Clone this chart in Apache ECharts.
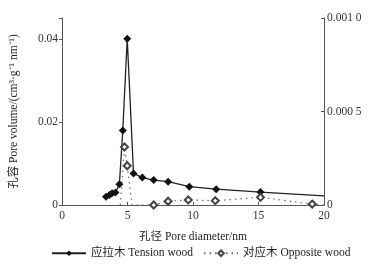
<!DOCTYPE html>
<html><head><meta charset="utf-8">
<script src="https://cdn.jsdelivr.net/npm/echarts@6/dist/echarts.min.js"></script>
<style>html,body{margin:0;padding:0;background:#fff}#c{width:369px;height:271px}</style>
</head><body><div id="c"></div>
<script>
// Tension wood (left axis)
const tensionX = [3.36, 3.62, 3.82, 4.08, 4.38, 4.64, 4.98, 5.46, 6.13, 7.0, 8.1, 9.72, 11.77, 15.15, 20];
const tensionY = [0.0020, 0.0024, 0.0028, 0.0030, 0.0050, 0.0179, 0.0400, 0.0076, 0.0066, 0.0060, 0.0056, 0.0044, 0.0038, 0.0031, 0.0022];
const tensionMeasured = [1,1,1,1,1,1,1,1,1,1,1,1,1,1,0];
// Opposite wood (right axis)
const oppositeX = [4.45, 4.77, 4.98, 5.35, 7.0, 8.1, 9.64, 11.7, 15.15, 19.1, 20];
const oppositeY = [0, 0.00031, 0.00021, 0, 0, 0.00002, 0.000027, 0.000023, 0.000041, 0.000005, 0];
const oppositeMeasured = [0,1,1,0,1,1,1,1,1,1,0];
const xTicks = [0, 5, 10, 15, 20];
const leftTickLabels = {"0": "0", "0.02": "0.02", "0.04": "0.04"};
const rightTickLabels = {"0": "0", "0.0005": "0.000 5", "0.001": "0.001 0"};
const seriesNames = ["应拉木 Tension wood", "对应木 Opposite wood"];
const xName = "孔径 Pore diameter/nm";
const yName = "孔容 Pore volume/(cm³·g⁻¹ nm⁻¹)";

const FONT = '"Liberation Serif", "Noto Sans CJK SC", serif';
const axisColor = '#555';
function mk(xs, ys, flags) {
  return xs.map((x, i) => flags[i] ? [x, ys[i]] : {value: [x, ys[i]], symbol: 'none'});
}
const chart = echarts.init(document.getElementById('c'), null, {renderer: 'canvas'});
chart.setOption({
  animation: false,
  backgroundColor: '#fff',
  textStyle: {fontFamily: FONT, color: '#222'},
  grid: {left: 62, right: 45, top: 18, bottom: 66, containLabel: false},
  legend: {
    bottom: 7, left: 46, itemWidth: 34, itemHeight: 7, itemGap: 10,
    textStyle: {fontFamily: FONT, fontSize: 11.5, color: '#222'},
    data: seriesNames
  },
  xAxis: {
    type: 'value', min: xTicks[0], max: xTicks[xTicks.length - 1], interval: 5,
    name: xName, nameLocation: 'middle', nameGap: 26,
    nameTextStyle: {fontFamily: FONT, fontSize: 11.5, color: '#222'},
    axisLine: {lineStyle: {color: axisColor, width: 1}},
    axisTick: {show: true, inside: true, length: 3, lineStyle: {color: axisColor}},
    axisLabel: {fontFamily: FONT, fontSize: 11.5, color: '#333', margin: 5},
    splitLine: {show: false}
  },
  yAxis: [{
    type: 'value', min: 0, max: 0.045, interval: 0.02, position: 'left',
    name: yName, nameLocation: 'middle', nameGap: 42, nameRotate: 90,
    nameTextStyle: {fontFamily: FONT, fontSize: 11.5, color: '#222'},
    axisLine: {show: true, lineStyle: {color: axisColor, width: 1}},
    axisTick: {show: true, length: 3, lineStyle: {color: axisColor}},
    axisLabel: {fontFamily: FONT, fontSize: 11.5, color: '#333', margin: 4,
      formatter: v => leftTickLabels[String(+v.toFixed(4))] ?? ''},
    splitLine: {show: false}
  }, {
    type: 'value', min: 0, max: 0.001, interval: 0.0005, position: 'right',
    axisLine: {show: true, lineStyle: {color: axisColor, width: 1}},
    axisTick: {show: true, inside: true, length: 3, lineStyle: {color: axisColor}},
    axisLabel: {fontFamily: FONT, fontSize: 11.5, color: '#333', margin: 3,
      formatter: v => rightTickLabels[String(+v.toFixed(5))] ?? ''},
    splitLine: {show: false}
  }],
  series: [{
    name: seriesNames[0], type: 'line', yAxisIndex: 0,
    data: mk(tensionX, tensionY, tensionMeasured),
    symbol: 'diamond', symbolSize: 8,
    itemStyle: {color: '#111'},
    lineStyle: {color: '#222', width: 1.3}
  }, {
    name: seriesNames[1], type: 'line', yAxisIndex: 1,
    data: mk(oppositeX, oppositeY, oppositeMeasured),
    symbol: 'emptyDiamond', symbolSize: 7,
    itemStyle: {color: '#444', borderColor: '#444', borderWidth: 1.2},
    lineStyle: {color: '#666', width: 1.2, type: [1.5, 4]}
  }]
});
</script></body></html>
